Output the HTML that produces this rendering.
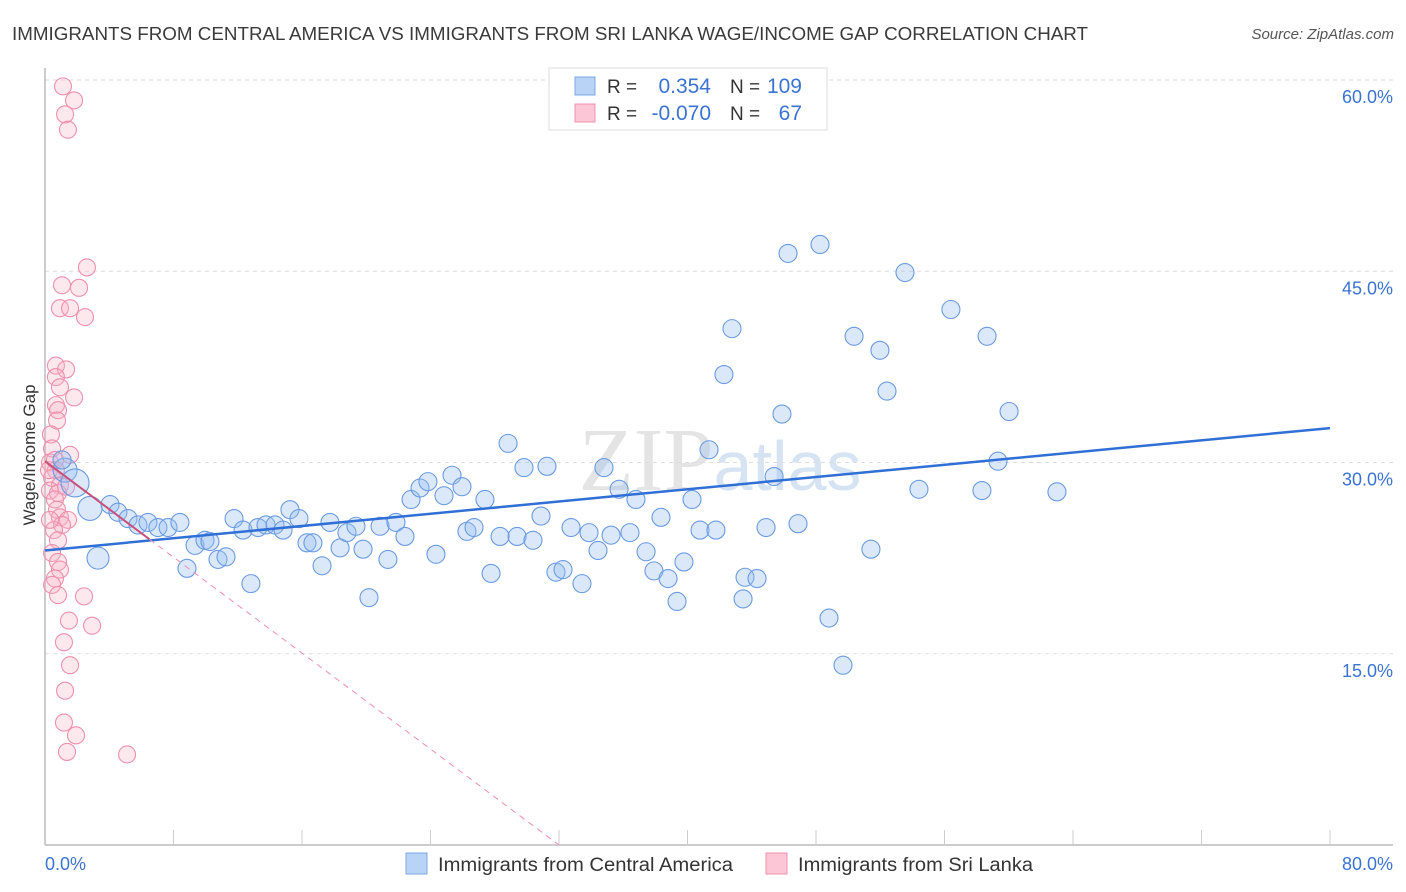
<!DOCTYPE html>
<html><head><meta charset="utf-8"><style>
body{margin:0;background:#fff;font-family:"Liberation Sans",sans-serif;}
svg{display:block}
</style></head><body>
<svg id="chart" width="1406" height="892">
<text x="12" y="40" font-size="18" fill="#3a3a3a" textLength="1076" lengthAdjust="spacingAndGlyphs">IMMIGRANTS FROM CENTRAL AMERICA VS IMMIGRANTS FROM SRI LANKA WAGE/INCOME GAP CORRELATION CHART</text>
<text x="1394" y="39" font-size="15" fill="#555" font-style="italic" text-anchor="end">Source: ZipAtlas.com</text>
<text x="35" y="455" font-size="17" fill="#333" text-anchor="middle" transform="rotate(-90 35 455)">Wage/Income Gap</text>
<text x="720" y="490" font-size="90" fill="#e4e4e4" text-anchor="middle" font-family="Liberation Serif,serif">ZIP<tspan fill="#d5e3f3" font-family="Liberation Sans,sans-serif" font-size="70">atlas</tspan></text>
<g id="grid"></g><g id="marks"></g><g id="lines"></g>
<g>
<rect x="549" y="68" width="278" height="62" fill="#fff" stroke="#ddd"/>
<rect x="575" y="77" width="20" height="18" fill="#b8d3f5" stroke="#7aa8e6"/>
<rect x="575" y="104" width="20" height="18" fill="#fcc6d6" stroke="#ee93ae"/>
<text x="607" y="93" font-size="19" fill="#333">R = </text><text x="711" y="93" font-size="21" fill="#3b73d1" text-anchor="end">0.354</text>
<text x="730" y="93" font-size="19" fill="#333">N = </text><text x="802" y="93" font-size="21" fill="#3b73d1" text-anchor="end">109</text>
<text x="607" y="120" font-size="19" fill="#333">R = </text><text x="711" y="120" font-size="21" fill="#3b73d1" text-anchor="end">-0.070</text>
<text x="730" y="120" font-size="19" fill="#333">N = </text><text x="802" y="120" font-size="21" fill="#3b73d1" text-anchor="end">67</text>
</g>
<g>
<rect x="406" y="853" width="21" height="21" fill="#b8d3f5" stroke="#7aa8e6"/>
<text x="438" y="871" font-size="19" fill="#333" textLength="295" lengthAdjust="spacingAndGlyphs">Immigrants from Central America</text>
<rect x="766" y="853" width="21" height="21" fill="#fcc6d6" stroke="#ee93ae"/>
<text x="798" y="871" font-size="19" fill="#333" textLength="235" lengthAdjust="spacingAndGlyphs">Immigrants from Sri Lanka</text>
</g>
</svg>
<script>
const blueX=[1.25,1.87,1.06,2.80,3.30,4.05,4.54,5.17,5.79,6.41,7.03,7.66,8.40,8.84,9.34,9.96,10.27,10.77,11.27,11.77,12.33,12.82,13.26,13.76,14.32,14.82,15.25,15.81,16.31,16.68,17.25,17.74,18.37,18.80,19.36,19.80,20.17,20.86,21.35,21.85,22.41,22.79,23.35,23.84,24.34,24.84,25.34,25.96,26.27,26.71,27.39,27.77,28.33,28.83,29.39,29.82,30.38,30.88,31.25,31.81,32.25,32.75,33.43,33.87,34.43,34.80,35.24,35.74,36.42,36.79,37.42,37.91,38.35,38.79,39.35,39.78,40.28,40.78,41.34,41.77,42.27,42.77,43.58,43.46,44.33,44.89,45.39,45.88,46.26,46.88,48.25,48.81,49.68,50.37,51.42,51.98,52.42,53.54,54.41,56.40,58.33,58.65,59.33,60.02,63.00];
const blueY=[29.4,28.4,30.2,26.4,22.5,26.7,26.1,25.6,25.1,25.3,24.9,24.9,25.3,21.7,23.5,23.9,23.8,22.4,22.6,25.6,24.7,20.5,24.9,25.1,25.1,24.7,26.3,25.6,23.7,23.7,21.9,25.3,23.3,24.5,25.0,23.2,19.4,25.0,22.4,25.3,24.2,27.1,28.0,28.5,22.8,27.4,29.0,28.1,24.6,24.9,27.1,21.3,24.2,31.5,24.2,29.6,23.9,25.8,29.7,21.4,21.6,24.9,20.5,24.5,23.1,29.6,24.3,27.9,24.5,27.1,23.0,21.5,25.7,20.9,19.1,22.2,27.1,24.7,31.0,24.7,36.9,40.5,21.0,19.3,20.9,24.9,28.9,33.8,46.4,25.2,47.1,17.8,14.1,39.9,23.2,38.8,35.6,44.9,27.9,42.0,27.8,39.9,30.1,34.0,27.7];
const blueBig=[12,14,9,12,11];
const pinkX=[1.12,1.81,1.25,1.43,2.61,1.06,2.12,0.93,1.56,2.49,0.68,1.31,0.68,0.93,1.81,0.68,0.81,0.75,0.37,0.44,1.56,0.31,0.68,0.44,0.93,0.31,0.81,1.31,0.62,0.75,0.93,1.43,1.06,0.56,0.81,0.44,0.81,0.93,0.62,0.44,2.43,0.81,1.49,2.93,1.18,1.56,1.25,1.18,1.93,1.37,5.11,0.31,0.25,0.62];
const pinkY=[59.5,58.4,57.3,56.1,45.3,43.9,43.7,42.1,42.1,41.4,37.6,37.3,36.7,35.9,35.1,34.5,34.1,33.3,32.2,31.1,30.6,30.0,29.4,28.8,28.2,27.8,27.6,28.1,27.1,26.3,25.7,25.5,25.1,24.7,23.9,22.9,22.2,21.6,20.9,20.4,19.5,19.6,17.6,17.2,15.9,14.1,12.1,9.6,8.6,7.3,7.1,25.5,29.4,30.2];
const yTicks=[15,30,45,60];
const blueTrend=[0,23.1,80,32.7];
const pinkTrend=[0,30.1,32,0];
const NS="http://www.w3.org/2000/svg";
const X=v=>45+v*1285/80, Y=v=>845-v*765/60;
function mk(t,a,p){const e=document.createElementNS(NS,t);for(const k in a)e.setAttribute(k,a[k]);p.appendChild(e);return e;}
const grid=document.getElementById('grid'),marks=document.getElementById('marks'),lines=document.getElementById('lines');
yTicks.forEach(t=>{
 const l=mk('line',{x1:45,x2:1393,y1:Y(t),y2:Y(t),stroke:'#ddd','stroke-dasharray':'4,4'},grid);
 
 
 const tx=mk('text',{x:1393,y:Y(t)+23,'font-size':18,fill:'#3b73d1','text-anchor':'end'},grid);
 tx.textContent=t.toFixed(1)+'%';
 
 
});
const ax=mk('line',{x1:45,x2:45,y1:68,y2:845,stroke:'#bbb','stroke-width':1.5},grid);


const bx=mk('line',{x1:45,x2:1393,y1:845,y2:845,stroke:'#bbb','stroke-width':1.5},grid);


for(let i=1;i<=10;i++){const t=mk('line',{x1:X(i*8),x2:X(i*8),y1:830,y2:845,stroke:'#ccc'},grid);
 
 }
[['0.0%',45,'start'],['80.0%',1393,'end']].forEach(a=>{const t=mk('text',{x:a[1],y:870,'font-size':18,fill:'#3b73d1','text-anchor':a[2]},grid);t.textContent=a[0];
 
 });
pinkX.forEach((v,i)=>{const c=mk('circle',{cx:X(v),cy:Y(pinkY[i]),r:8.5,fill:'rgba(250,180,200,0.3)',stroke:'#ee8fae','stroke-width':1.1},marks);
 
 });
blueX.forEach((v,i)=>{const c=mk('circle',{cx:X(v),cy:Y(blueY[i]),r:blueBig[i]||9,fill:'rgba(150,190,240,0.35)',stroke:'#6a9be0','stroke-width':1.1},marks);
 
 });
const bl=mk('line',{x1:X(blueTrend[0]),y1:Y(blueTrend[1]),x2:X(blueTrend[2]),y2:Y(blueTrend[3]),stroke:'#2f6fd6','stroke-width':2.5},lines);


const pf=v=>pinkTrend[1]+(pinkTrend[3]-pinkTrend[1])*(v-pinkTrend[0])/(pinkTrend[2]-pinkTrend[0]);
const pd=mk('line',{x1:X(6.5),y1:Y(pf(6.5)),x2:X(pinkTrend[2]),y2:Y(pinkTrend[3]),stroke:'#ee8fae','stroke-width':1,'stroke-dasharray':'6,5'},lines);


const ps=mk('line',{x1:X(0),y1:Y(pf(0)),x2:X(6.5),y2:Y(pf(6.5)),stroke:'#c8507a','stroke-width':2},lines);


</script>
</body></html>
